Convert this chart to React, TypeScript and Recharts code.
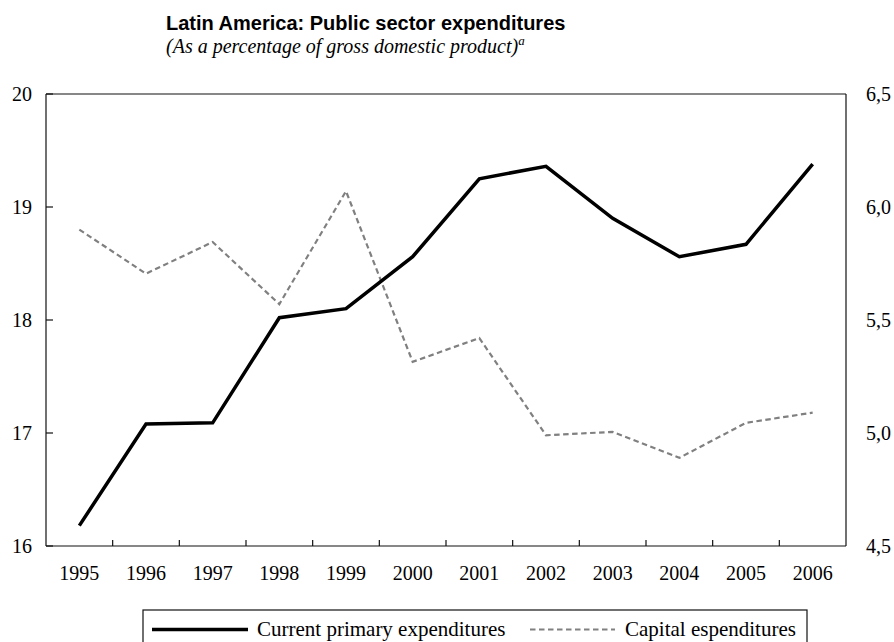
import { Line, LineChart, ReferenceLine, XAxis, YAxis } from "recharts";

// years on the category axis
const years = ["1995", "1996", "1997", "1998", "1999", "2000", "2001", "2002", "2003", "2004", "2005", "2006"];

// current primary expenditures, % of GDP (left axis)
const currentPrimary = [16.18, 17.08, 17.09, 18.02, 18.1, 18.56, 19.25, 19.36, 18.9, 18.56, 18.67, 19.38];

// capital expenditures, % of GDP (right axis)
const capital = [5.9, 5.705, 5.845, 5.57, 6.07, 5.315, 5.42, 4.99, 5.005, 4.89, 5.045, 5.09];

const leftTicks = [16, 17, 18, 19, 20];
const rightTicks = [4.5, 5, 5.5, 6, 6.5];

const rows = years.map((year, i) => ({
  year,
  current: currentPrimary[i],
  capital: capital[i],
}));

const W = 894;
const H = 642;
const SERIF = '"Liberation Serif", "Times New Roman", serif';
const SANS = '"Liberation Sans", Arial, sans-serif';
const X_TICK_MARGIN = 27;
const DASH = "5.5 3.5";

function fmtComma(v: number): string {
  return v.toFixed(1).replace(".", ",");
}

// year label at the band centre, small inward tick at the band boundary
function YearTick(props: any) {
  const { x, y, payload, index, visibleTicksCount } = props;
  const half = Number(payload?.offset ?? 0);
  const axisY = y - X_TICK_MARGIN;
  const last = index >= visibleTicksCount - 1;
  return (
    <g>
      <text
        x={x}
        y={y}
        dy="0.355em"
        textAnchor="middle"
        fill="#000"
        fontSize={20}
        fontFamily={SERIF}
      >
        {payload.value}
      </text>
      {!last && (
        <line x1={x + half} x2={x + half} y1={axisY} y2={axisY - 6} stroke="#111" strokeWidth={1.2} />
      )}
    </g>
  );
}

export default function App() {
  return (
    <div
      style={{
        position: "absolute",
        left: 0,
        top: 0,
        width: W,
        height: H,
        overflow: "hidden",
        background: "#fff",
      }}
    >
      <LineChart width={W} height={H} data={rows} margin={{ top: 94, right: 0, bottom: 0, left: 0 }}>
        <XAxis
          dataKey="year"
          scale="band"
          height={96}
          interval={0}
          tickLine={false}
          tickSize={0}
          tickMargin={X_TICK_MARGIN}
          axisLine={{ stroke: "#111", strokeWidth: 1.2 }}
          tick={<YearTick />}
        />
        <YAxis
          yAxisId="left"
          width={46}
          domain={[16, 20]}
          ticks={leftTicks}
          interval={0}
          tickSize={-7}
          tickMargin={21}
          axisLine={{ stroke: "#111", strokeWidth: 1.2 }}
          tickLine={{ stroke: "#111", strokeWidth: 1.2 }}
          tick={{ fill: "#000", fontSize: 20, fontFamily: SERIF }}
        />
        <YAxis
          yAxisId="right"
          orientation="right"
          width={48}
          domain={[4.5, 6.5]}
          ticks={rightTicks}
          interval={0}
          tickLine={false}
          tickSize={0}
          tickMargin={20}
          tickFormatter={(v) => fmtComma(Number(v))}
          axisLine={{ stroke: "#111", strokeWidth: 1.2 }}
          tick={{ fill: "#000", fontSize: 20, fontFamily: SERIF }}
        />
        <ReferenceLine yAxisId="left" y={20} stroke="#111" strokeWidth={1.2} />
        <Line
          yAxisId="right"
          type="linear"
          dataKey="capital"
          stroke="#808080"
          strokeWidth={2.2}
          strokeDasharray={DASH}
          dot={false}
          isAnimationActive={false}
        />
        <Line
          yAxisId="left"
          type="linear"
          dataKey="current"
          stroke="#000"
          strokeWidth={3.5}
          dot={false}
          isAnimationActive={false}
        />
      </LineChart>

      <svg
        width={W}
        height={H}
        style={{ position: "absolute", left: 0, top: 0, pointerEvents: "none" }}
      >
        <text x={166} y={29.5} fontFamily={SANS} fontWeight="bold" fontSize={20} fill="#000">
          Latin America: Public sector expenditures
        </text>
        <text x={166} y={53} fontFamily={SERIF} fontStyle="italic" fontSize={20} fill="#000">
          (As a percentage of gross domestic product)
          <tspan fontSize={13} dy={-8}>a</tspan>
        </text>

        <rect x={143} y={610} width={664} height={40} fill="none" stroke="#111" strokeWidth={1.2} />
        <line x1={152} x2={248} y1={629.5} y2={629.5} stroke="#000" strokeWidth={3.5} />
        <text x={257} y={636} fontFamily={SERIF} fontSize={21} fill="#000">
          Current primary expenditures
        </text>
        <line
          x1={530}
          x2={615}
          y1={629.5}
          y2={629.5}
          stroke="#808080"
          strokeWidth={2.2}
          strokeDasharray={DASH}
        />
        <text x={625} y={636} fontFamily={SERIF} fontSize={21} fill="#000">
          Capital espenditures
        </text>
      </svg>
    </div>
  );
}
